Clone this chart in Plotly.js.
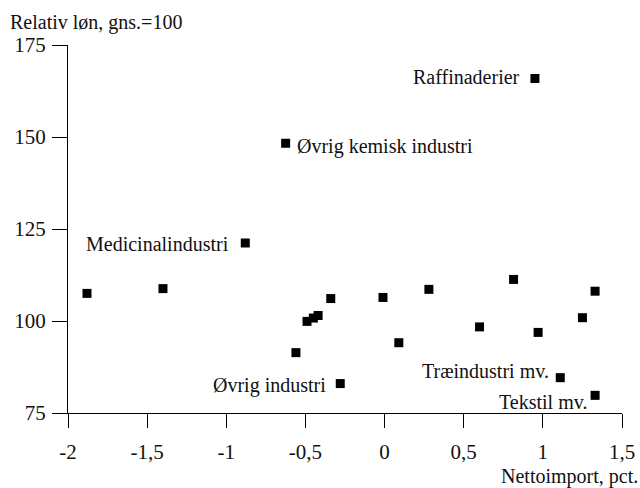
<!DOCTYPE html>
<html>
<head>
<meta charset="utf-8">
<script src="https://cdn.plot.ly/plotly-3.0.1.min.js"></script>
<style>html,body{margin:0;padding:0;background:#fff;}#chart{width:640px;height:488px;}</style>
</head>
<body>
<div id="chart"></div>
<script>
// Data
const netImport = [-1.88, -1.40, -0.88, -0.625, -0.56, -0.49, -0.45, -0.42, -0.34, -0.28, -0.01, 0.09, 0.28, 0.60, 0.815, 0.95, 0.97, 1.11, 1.25, 1.33, 1.33];
const relWage   = [107.5, 108.8, 121.2, 148.3, 91.4, 99.9, 100.8, 101.5, 106.1, 83.0, 106.4, 94.1, 108.6, 98.4, 111.3, 165.9, 96.9, 84.6, 100.9, 108.1, 79.8];
const pointLabels = ['', '', 'Medicinalindustri', 'Øvrig kemisk industri', '', '', '', '', '', 'Øvrig industri', '', '', '', '', '', 'Raffinaderier', '', 'Træindustri mv.', '', '', 'Tekstil mv.'];
const xTickVals = [-2, -1.5, -1, -0.5, 0, 0.5, 1, 1.5];
const xTickText = ['-2', '-1,5', '-1', '-0,5', '0', '0,5', '1', '1,5'];
const yTickVals = [75, 100, 125, 150, 175];
const yTickText = ['75', '100', '125', '150', '175'];
const xTitle = 'Nettoimport, pct.';
const yTitle = 'Relativ løn, gns.=100';

// Label placement (style only)
const labelStyle = {
  'Medicinalindustri':     {side: 'right', dx: -14, dy: -1},
  'Øvrig kemisk industri': {side: 'left',  dx: 9,   dy: -3},
  'Øvrig industri':        {side: 'right', dx: -12, dy: -2},
  'Raffinaderier':         {side: 'right', dx: -13, dy: 1},
  'Træindustri mv.':       {side: 'right', dx: -9,  dy: 7},
  'Tekstil mv.':           {side: 'right', dx: -6,  dy: -7}
};

const FONT = 'Times New Roman';
const INK = '#111111';

const annotations = [];
pointLabels.forEach((lab, i) => {
  if (!lab) return;
  const s = labelStyle[lab];
  annotations.push({
    x: netImport[i], y: relWage[i], xref: 'x', yref: 'y',
    text: lab, showarrow: false,
    xanchor: s.side, yanchor: 'middle',
    xshift: s.dx, yshift: s.dy,
    font: {family: FONT, size: 20, color: INK}
  });
});
annotations.push({
  x: 1, y: 0, xref: 'paper', yref: 'paper', text: xTitle, showarrow: false,
  xanchor: 'right', yanchor: 'middle', xshift: 18, yshift: -63,
  font: {family: FONT, size: 20, color: INK}
});
annotations.push({
  x: 0, y: 1, xref: 'paper', yref: 'paper', text: yTitle, showarrow: false,
  xanchor: 'left', yanchor: 'middle', xshift: -60, yshift: 23,
  font: {family: FONT, size: 20, color: INK}
});

const trace = {
  x: netImport, y: relWage, type: 'scatter', mode: 'markers',
  marker: {symbol: 'square', size: 9, color: '#000'},
  hoverinfo: 'skip', cliponaxis: false
};

const layout = {
  width: 640, height: 488,
  margin: {l: 68, r: 18, t: 45, b: 75},
  paper_bgcolor: '#fff', plot_bgcolor: '#fff',
  showlegend: false,
  font: {family: FONT, size: 20, color: INK},
  xaxis: {
    range: [-2, 1.5], tickvals: xTickVals, ticktext: xTickText,
    showgrid: false, zeroline: false, showline: true, linecolor: '#000', linewidth: 1,
    ticks: 'outside', ticklen: 14, tickcolor: '#000', tickwidth: 1,
    ticklabelstandoff: 6,
    tickfont: {family: FONT, size: 21, color: INK}, fixedrange: true
  },
  yaxis: {
    range: [75, 175], tickvals: yTickVals, ticktext: yTickText,
    showgrid: false, zeroline: false, showline: true, linecolor: '#000', linewidth: 1,
    ticks: 'outside', ticklen: 15, tickcolor: '#000', tickwidth: 1,
    ticklabelstandoff: 2,
    tickfont: {family: FONT, size: 21, color: INK}, fixedrange: true
  },
  annotations: annotations
};

Plotly.newPlot('chart', [trace], layout, {staticPlot: true, displayModeBar: false});
</script>
</body>
</html>
